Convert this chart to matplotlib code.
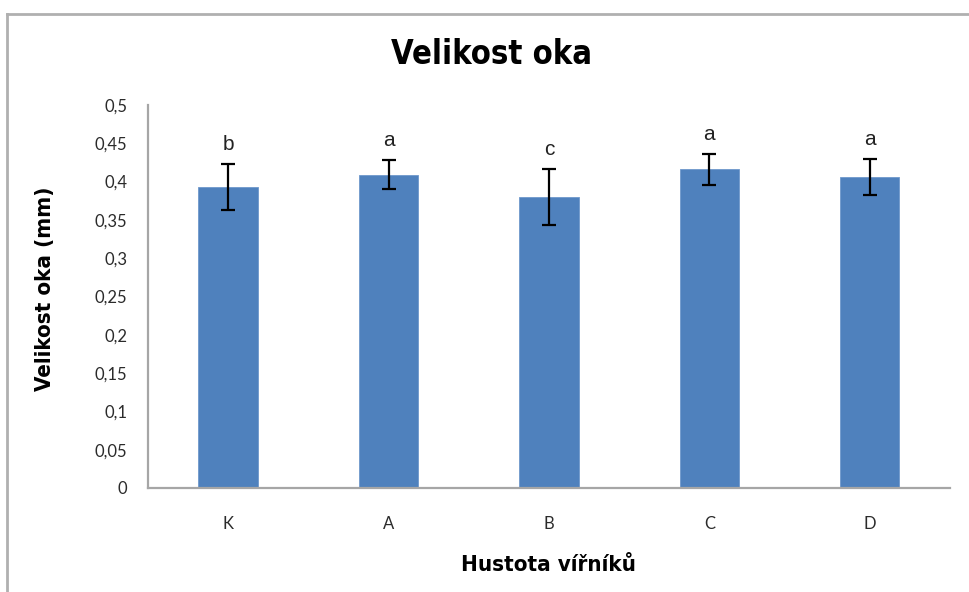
import matplotlib
matplotlib.use("Agg")
from matplotlib import pyplot as plt
from matplotlib.lines import Line2D

# mesh size per rotifer density group
groups = ["K", "A", "B", "C", "D"]
means = [0.393, 0.409, 0.380, 0.416, 0.406]
errors = [0.030, 0.019, 0.037, 0.020, 0.024]
letters = ["b", "a", "c", "a", "a"]
yticks = [0, 0.05, 0.1, 0.15, 0.2, 0.25, 0.3, 0.35, 0.4, 0.45, 0.5]

bold_font = dict(family="DejaVu Sans", fontstretch="condensed", fontweight="bold")
tick_font = ["Lato", "DejaVu Sans"]

fig = plt.figure(figsize=(9.69, 5.92), dpi=100)
ax = fig.add_axes([0.1527, 0.1757, 0.8277, 0.6469])

x = range(len(groups))
ax.bar(x, means, width=0.37, color="#4f81bd", edgecolor="#6e98cc", linewidth=0.6,
       zorder=2)
ax.errorbar(x, means, yerr=errors, fmt="none", ecolor="black", elinewidth=1.6,
            capsize=5, capthick=1.6, zorder=3)

for xi, m, e, lab in zip(x, means, errors, letters):
    ax.annotate(lab, (xi, m + e), xytext=(0, 7), textcoords="offset points",
                ha="center", va="bottom", fontsize=15, color="#222222",
                family=["Liberation Sans", "DejaVu Sans"])

ax.set_xlim(-0.5, len(groups) - 0.5)
ax.set_ylim(0, 0.5)
ax.set_yticks(yticks)
ax.set_yticklabels([f"{t:g}".replace(".", ",") for t in yticks],
                   family=tick_font, fontsize=12, color="#2b2b2b")
ax.set_xticks(list(x))
ax.set_xticklabels(groups, family=tick_font, fontsize=12, color="#2b2b2b")
ax.tick_params(axis="y", length=0, pad=15)
ax.tick_params(axis="x", length=0, pad=20)

for side in ["top", "right"]:
    ax.spines[side].set_visible(False)
for side in ["left", "bottom"]:
    ax.spines[side].set_color("#a6a6a6")
    ax.spines[side].set_linewidth(1.6)

ax.set_xlabel("Hustota vířníků", fontsize=16, **bold_font)
ax.xaxis.set_label_coords(0.499, -0.175)
ax.set_ylabel("Velikost oka (mm)", fontsize=16, **bold_font)
ax.yaxis.set_label_coords(-0.116, 0.52)

fig.text(491 / 969, 1 - 55 / 592, "Velikost oka", fontsize=23.5,
         ha="center", va="center", **bold_font)

# chart area frame (only left and top edges fall inside the image)
fig.add_artist(Line2D([6.5 / 969, 6.5 / 969], [0, 1 - 13.5 / 592],
                      transform=fig.transFigure, color="#b0b0b0", lw=2))
fig.add_artist(Line2D([6.5 / 969, 1], [1 - 13.5 / 592, 1 - 13.5 / 592],
                      transform=fig.transFigure, color="#b0b0b0", lw=2))

fig.savefig("out.png", dpi=100)
